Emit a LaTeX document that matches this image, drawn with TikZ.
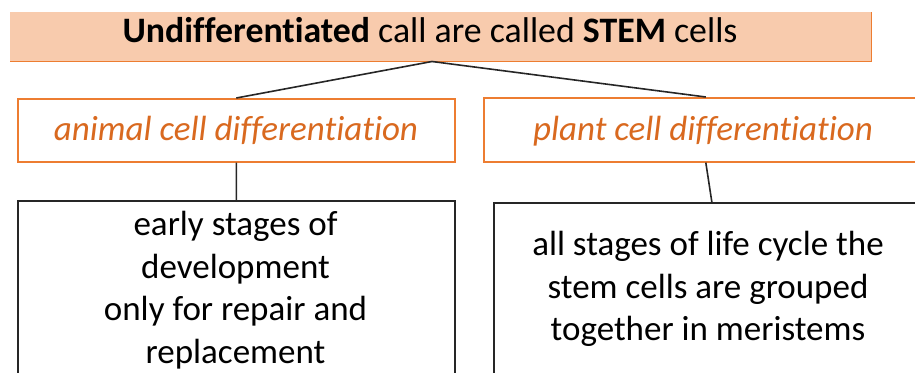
\documentclass[tikz,border=0pt]{standalone}
\usepackage{fontspec}
\setmainfont{Carlito}[Ligatures={NoCommon}]
\definecolor{peach}{HTML}{F8CBAD}
\definecolor{accent}{HTML}{ED7D31}
\definecolor{accenttext}{HTML}{D9691F}
\tikzset{
  headbox/.style={fill=peach, draw=none, rectangle, anchor=north west, inner sep=0pt},
  kindbox/.style={draw=accent, line width=1.6pt, fill=white, rectangle, anchor=north west, inner sep=0pt},
  notebox/.style={draw=black!85, line width=1.7pt, fill=white, rectangle, anchor=north west, inner sep=0pt},
  kindtext/.style={text=accenttext, font=\fontsize{35}{42}\selectfont\itshape},
  notetext/.style={align=center, font=\fontsize{35}{42.5}\selectfont, inner sep=0pt, anchor=north},
  link/.style={draw=black!85, line width=1.6pt}
}
\begin{document}
\begin{tikzpicture}[x=1pt, y=-1pt]
  \useasboundingbox (0,0) rectangle (915,372);

  % top heading box: filled, with an orange edge on the right and bottom
  \node[headbox, minimum width=861pt, minimum height=49pt] (top) at (10,12) {};
  \draw[accent, line width=1.6pt] (top.north east) -- (top.south east) -- (top.south west);
  \node[font=\fontsize{35.8}{42}\selectfont] (title) at (430,30)
    {\textbf{Undifferentiated} call are called \textbf{STEM} cells};

  % second row
  \node[kindbox, minimum width=437pt, minimum height=63pt] (animal) at (17,98) {};
  \node[kindtext] (animaltext) at (236,130) {animal cell differentiation};
  \node[kindbox, minimum width=444pt, minimum height=64pt] (plant) at (483,97) {};
  \node[kindtext] (planttext) at (703,131) {plant cell differentiation};

  % third row
  \node[notebox, minimum width=437pt, minimum height=200pt] (early) at (17,200) {};
  \node[notetext] (earlytext) at (235.5,211)
    {early stages of\\development\\only for repair and\\replacement};
  \node[notebox, minimum width=436pt, minimum height=200pt] (all) at (493,202) {};
  \node[notetext] (alltext) at (708,231)
    {all stages of life cycle the\\stem cells are grouped\\together in meristems};

  % connectors
  \coordinate (apex) at (432,61.5);
  \draw[link] (apex) -- (animal.north);
  \draw[link] (apex) -- (plant.north);
  \draw[link] (animal.south) -- (early.north);
  \draw[link] (plant.south) -- (all.north);
\end{tikzpicture}
\end{document}
